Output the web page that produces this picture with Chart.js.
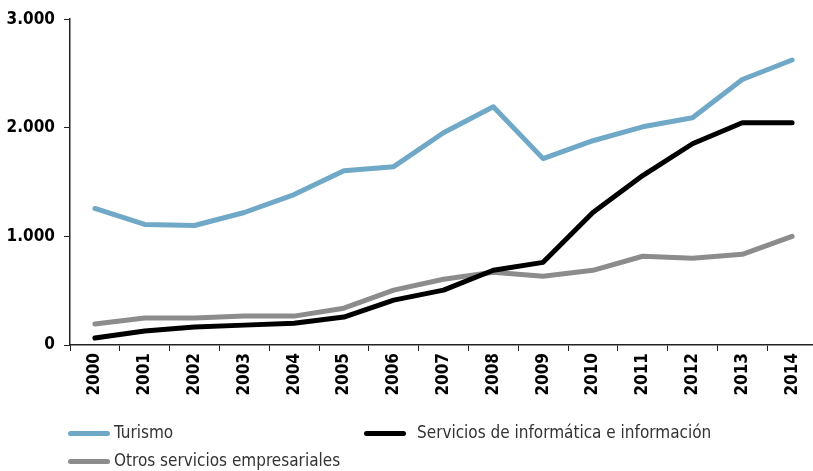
<!DOCTYPE html>
<html>
<head>
<meta charset="utf-8">
<script src="https://cdn.jsdelivr.net/npm/chart.js@4"></script>
<style>
  html, body { margin: 0; padding: 0; background: #fff; overflow: hidden; }
  #wrap { position: relative; width: 817px; height: 471px; }
  #legend { position: absolute; left: 0; top: 0; width: 813px; height: 471px; pointer-events: none;
            font-family: 'DejaVu Sans Condensed', 'DejaVu Sans', sans-serif; font-stretch: condensed;
            font-size: 17px; color: #333; }
  .item { position: absolute; white-space: nowrap; line-height: 20px; }
  .item span.ln { display: inline-block; width: 42px; height: 5px; border-radius: 3px; vertical-align: middle; }
</style>
</head>
<body>
<div id="wrap">
  <canvas id="chart1" width="817" height="471"></canvas>
  <div id="legend"></div>
</div>
<script>
const years = ['2000', '2001', '2002', '2003', '2004', '2005', '2006', '2007', '2008', '2009', '2010', '2011', '2012', '2013', '2014'];
const turismo = [1257, 1110, 1100, 1220, 1385, 1605, 1642, 1954, 2193, 1716, 1881, 2009, 2092, 2445, 2624];
const informatica = [64, 128, 165, 183, 200, 257, 413, 505, 688, 761, 1220, 1560, 1853, 2046, 2046];
const otros = [193, 248, 248, 266, 266, 339, 505, 605, 670, 633, 688, 817, 798, 835, 1000];
const yTicks = [0, 1000, 2000, 3000];

const font = "'DejaVu Sans Condensed', 'Liberation Sans Narrow', sans-serif";

const ctx1 = document.getElementById('chart1');
const myChart = new Chart(ctx1, {
    type: 'line',
    data: {
        labels: years,
        datasets: [{
            label: 'Turismo',
            data: turismo,
            borderColor: '#70a8c8',
            backgroundColor: '#70a8c8'
        }, {
            label: 'Servicios de informática e información',
            data: informatica,
            borderColor: '#000000',
            backgroundColor: '#000000'
        }, {
            label: 'Otros servicios empresariales',
            data: otros,
            borderColor: '#8c8c8c',
            backgroundColor: '#8c8c8c'
        }]
    },
    options: {
        responsive: false,
        animation: false,
        elements: {
            line: { borderWidth: 5, tension: 0, borderCapStyle: 'round', borderJoinStyle: 'round' },
            point: { radius: 0 }
        },
        layout: {
            padding: { left: 0, top: 18, right: 0, bottom: 76 }
        },
        scales: {
            y: {
                min: 0,
                max: 3000,
                afterFit: function (scale) { scale.width = 70; },
                afterBuildTicks: function (scale) {
                    scale.ticks = yTicks.map(v => ({ value: v }));
                },
                border: { color: '#222222', width: 1.5 },
                grid: {
                    drawOnChartArea: false,
                    tickLength: 6,
                    color: '#222222'
                },
                ticks: {
                    color: '#000000',
                    padding: 9,
                    font: { family: font, size: 17, weight: 'bold' },
                    callback: function (v) { return v.toLocaleString('de-DE'); }
                }
            },
            x: {
                offset: true,
                afterFit: function (scale) { scale.height = 50; },
                border: { color: '#222222', width: 1.5 },
                grid: {
                    offset: true,
                    drawOnChartArea: false,
                    tickLength: 6,
                    color: '#222222'
                },
                ticks: {
                    color: '#000000',
                    padding: 2,
                    minRotation: 90,
                    maxRotation: 90,
                    font: { family: font, size: 17, weight: 'bold' }
                }
            }
        },
        plugins: {
            legend: { display: false },
            tooltip: { enabled: false }
        }
    }
});

// legend laid out in two columns under the axis
const legendPos = [[68, 422, 4], [364, 422, 11], [68, 450, 4]];
const legendBox = document.getElementById('legend');
myChart.data.datasets.forEach(function (ds, i) {
    const el = document.createElement('div');
    el.className = 'item';
    el.style.left = legendPos[i][0] + 'px';
    el.style.top = legendPos[i][1] + 'px';
    el.innerHTML = '<span class="ln" style="background:' + ds.borderColor + ';margin-right:' + legendPos[i][2] + 'px"></span>' + ds.label;
    legendBox.appendChild(el);
});
</script>
</body>
</html>
